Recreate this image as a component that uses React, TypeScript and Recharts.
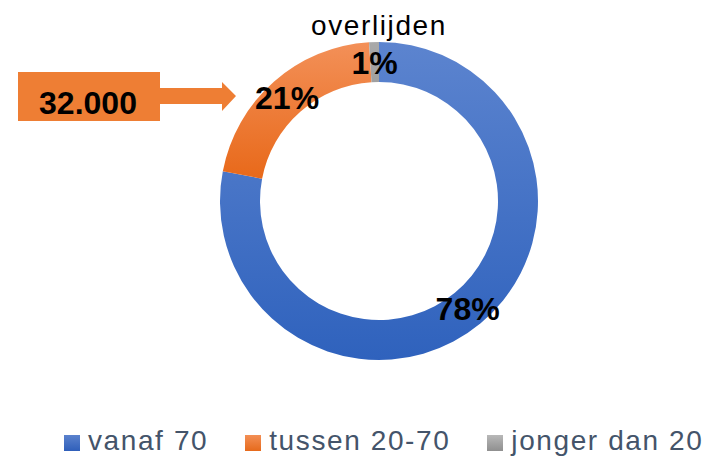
import { Cell, Customized, Legend, Pie, PieChart } from 'recharts'

const categories = ['vanaf 70', 'tussen 20-70', 'jonger dan 20']
const shares = [78, 21, 1]
const topTitle = 'overlijden'
const calloutValue = '32.000'

// gradient stops per slice: light top -> darker bottom
const gradients = [
	['#5c84cf', '#2f62bd'],
	['#f39058', '#e8691a'],
	['#a9a9a9', '#a0a0a0'],
]
const legendGradients = [
	['#5b82cd', '#2f5fba'],
	['#f38f55', '#e66a1c'],
	['#b8b8b8', '#8f8f8f'],
]

const data = categories.map((name, i) => ({ name, value: shares[i] }))

const RAD = Math.PI / 180
const font = '"Liberation Sans", Arial, sans-serif'

function renderLabel(props: any) {
	const { cx, cy, midAngle, innerRadius, outerRadius, value } = props
	const r = (innerRadius + outerRadius) / 2
	const x = cx + r * Math.cos(-midAngle * RAD)
	const y = cy + r * Math.sin(-midAngle * RAD)
	return (
		<text
			x={x}
			y={y + 12}
			textAnchor="middle"
			fill="#000"
			fontFamily={font}
			fontWeight="bold"
			fontSize={32}
		>
			{`${value}%`}
		</text>
	)
}

function Annotations() {
	return (
		<g>
			<text
				x={379}
				y={35}
				textAnchor="middle"
				fill="#000"
				fontFamily={font}
				fontSize={28}
				letterSpacing={1.6}
			>
				{topTitle}
			</text>
			<rect x={18} y={72} width={142} height={49} fill="#ee7e34" />
			<polygon
				points="160,88 222,88 222,82 236,96 222,111 222,104 160,104"
				fill="#ee7e34"
			/>
			<text
				x={88}
				y={114}
				textAnchor="middle"
				fill="#000"
				fontFamily={font}
				fontWeight="bold"
				fontSize={32}
			>
				{calloutValue}
			</text>
		</g>
	)
}

function renderLegend() {
	return (
		<div
			style={{
				display: 'flex',
				gap: 37,
				paddingLeft: 64,
				fontFamily: font,
				fontSize: 28,
				letterSpacing: 1.6,
				color: '#44546a',
				lineHeight: '30px',
			}}
		>
			{categories.map((name, i) => (
				<div key={name} style={{ display: 'flex', alignItems: 'center' }}>
					<span
						style={{
							display: 'inline-block',
							width: 16,
							height: 16,
							marginRight: 8,
							marginTop: 4,
							background: `linear-gradient(${legendGradients[i][0]}, ${legendGradients[i][1]})`,
						}}
					/>
					<span>{name}</span>
				</div>
			))}
		</div>
	)
}

export default function App() {
	return (
		<div style={{ position: 'absolute', left: 0, top: 0, background: '#fff' }}>
			<PieChart width={709} height={457} margin={{ top: 0, right: 0, bottom: 0, left: 0 }}>
				<defs>
					{gradients.map((g, i) => (
						<linearGradient key={i} id={`slice-${i}`} x1="0" y1="0" x2="0" y2="1">
							<stop offset="0%" stopColor={g[0]} />
							<stop offset="100%" stopColor={g[1]} />
						</linearGradient>
					))}
				</defs>
				<Pie
					data={data}
					dataKey="value"
					nameKey="name"
					cx={379}
					cy={201}
					innerRadius={119}
					outerRadius={159}
					startAngle={90}
					endAngle={-270}
					stroke="none"
					label={renderLabel}
					labelLine={false}
					isAnimationActive={false}
				>
					{data.map((d, i) => (
						<Cell key={d.name} fill={`url(#slice-${i})`} />
					))}
				</Pie>
				<Customized component={Annotations} />
				<Legend
					content={renderLegend}
					wrapperStyle={{ position: 'absolute', left: 0, top: 426, width: 709 }}
				/>
			</PieChart>
		</div>
	)
}
